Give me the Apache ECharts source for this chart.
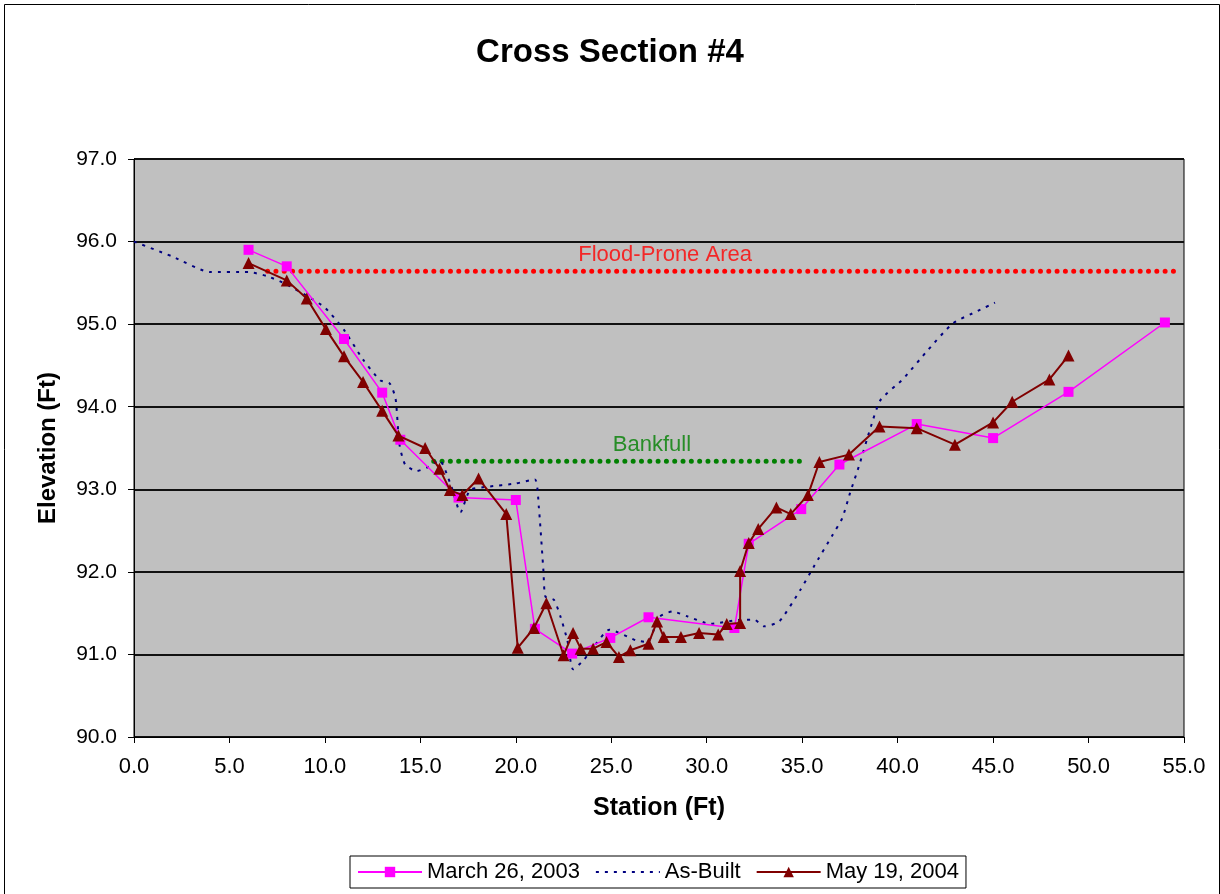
<!DOCTYPE html>
<html>
<head>
<meta charset="utf-8">
<script src="https://cdn.jsdelivr.net/npm/echarts@6/dist/echarts.min.js"></script>
<style>
  html, body { margin: 0; padding: 0; background: #fff; }
  #chart { width: 1220px; height: 894px; }
</style>
</head>
<body>
<div id="chart"></div>
<script>
// March 26, 2003 survey
const marchStation = [6.0, 8.0, 11.0, 13.0, 13.95, 17.0, 20.0, 21.0, 22.95, 24.95, 26.95, 31.45, 32.2, 34.95, 36.95, 41.0, 45.0, 48.95, 54.0];
const marchElev = [95.9, 95.7, 94.82, 94.17, 93.6, 92.9, 92.87, 91.31, 91.01, 91.2, 91.45, 91.32, 92.34, 92.76, 93.3, 93.79, 93.62, 94.18, 95.02];

// As-Built profile
const builtStation = [0, 2, 4, 6, 7, 8, 9, 10, 11, 12, 12.9, 13.4, 13.7, 13.9, 14.2, 14.8, 15.4, 16, 16.6, 17.1, 17.6, 18.5, 20, 21.0,
  21.2, 21.45, 21.55, 22.0, 22.35, 22.7, 23.0, 23.55, 24.2, 24.9, 26.3, 26.9, 27.5, 28.2, 29, 30.2, 31.8, 32.5, 33, 33.8,
  34.9, 35.6, 36.6, 37.1, 37.5, 38.0, 38.6, 39.1, 40.3, 41.6, 42.9, 44.2, 45.1];
const builtElev = [96.0, 95.82, 95.63, 95.63, 95.58, 95.48, 95.35, 95.2, 94.93, 94.57, 94.32, 94.28, 94.1, 93.55, 93.3, 93.22, 93.27, 93.35, 93.05, 92.72, 92.99, 93.03, 93.07, 93.12,
  92.8, 92.0, 91.7, 91.66, 91.45, 91.17, 90.82, 90.93, 91.13, 91.3, 91.17, 91.15, 91.45, 91.52, 91.46, 91.37, 91.42, 91.42, 91.34, 91.4,
  91.78, 92.06, 92.45, 92.65, 92.95, 93.3, 93.76, 94.08, 94.34, 94.69, 95.01, 95.16, 95.26];

// May 19, 2004 survey
const mayStation = [6.0, 8.0, 9.05, 10.05, 11.0, 12.0, 13.0, 13.85, 15.25, 16.0, 16.55, 17.2, 18.05, 19.5, 20.1, 20.95, 21.6, 22.5, 23.0, 23.4,
  24.05, 24.75, 25.4, 26.0, 26.95, 27.4, 27.75, 28.65, 29.6, 30.6, 31.05, 31.75, 31.75, 32.2, 32.7, 33.65, 34.4, 35.3, 35.9, 37.45,
  39.05, 41.0, 43.0, 45.0, 46.0, 47.95, 48.95];
const mayElev = [95.74, 95.53, 95.31, 94.94, 94.61, 94.3, 93.95, 93.65, 93.5, 93.25, 92.99, 92.93, 93.13, 92.7, 91.08, 91.32, 91.62, 90.99, 91.26, 91.07,
  91.07, 91.15, 90.97, 91.05, 91.13, 91.4, 91.21, 91.21, 91.26, 91.24, 91.37, 91.38, 92.01, 92.35, 92.52, 92.78, 92.7, 92.93, 93.33, 93.42,
  93.76, 93.74, 93.54, 93.81, 94.06, 94.33, 94.62];

// reference lines
const floodStation = [7.0, 54.65];
const floodElev = [95.64, 95.64];
const bankStation = [15.7, 35.2];
const bankElev = [93.34, 93.34];
const floodLabelAt = [27.82, 95.84];
const bankLabelAt = [27.13, 93.54];

const xTicks = { min: 0, max: 55, step: 5 };
const yTicks = { min: 90, max: 97, step: 1 };

const zip = (xs, ys) => xs.map((x, i) => [x, ys[i]]);
const font = "Liberation Sans, Arial, sans-serif";

const chart = echarts.init(document.getElementById("chart"));
chart.setOption({
  animation: false,
  textStyle: { fontFamily: font },
  title: {
    text: "Cross Section #4",
    left: "center",
    top: 31,
    textStyle: { fontSize: 33, fontWeight: "bold", color: "#000", fontFamily: font }
  },
  graphic: [{
    type: "rect",
    left: 2, top: 2,
    shape: { width: 1215, height: 900 },
    style: { fill: "none", stroke: "#000", lineWidth: 1 },
    silent: true
  }],
  grid: {
    left: 134, right: 36, top: 159, bottom: 157,
    show: true,
    backgroundColor: "#C0C0C0",
    borderColor: "#000",
    borderWidth: 1
  },
  legend: {
    bottom: 6,
    left: 350,
    data: [
      { name: "March 26, 2003" },
      { name: "As-Built", itemStyle: { opacity: 0 } },
      { name: "May 19, 2004" }
    ],
    itemWidth: 64,
    itemHeight: 13,
    itemGap: 15,
    borderColor: "#000",
    borderWidth: 1,
    padding: [5, 7],
    textStyle: { fontSize: 22, color: "#000", fontFamily: font }
  },
  xAxis: {
    type: "value",
    min: xTicks.min, max: xTicks.max, interval: xTicks.step,
    name: "Station (Ft)",
    nameLocation: "middle",
    nameGap: 59,
    nameTextStyle: { fontSize: 25, fontWeight: "bold", color: "#000" },
    axisLine: { lineStyle: { color: "#000", width: 1 } },
    axisTick: { show: true, length: 6, lineStyle: { color: "#000" } },
    axisLabel: { fontSize: 22, color: "#000", margin: 19, formatter: v => v.toFixed(1) },
    splitLine: { show: false }
  },
  yAxis: {
    type: "value",
    min: yTicks.min, max: yTicks.max, interval: yTicks.step,
    name: "Elevation (Ft)",
    nameLocation: "middle",
    nameGap: 74,
    nameRotate: 90,
    nameTextStyle: { fontSize: 24, fontWeight: "bold", color: "#000" },
    axisLine: { show: true, lineStyle: { color: "#000", width: 1 } },
    axisTick: { show: true, length: 6, lineStyle: { color: "#000" } },
    axisLabel: { fontSize: 21, color: "#000", margin: 17, formatter: v => v.toFixed(1) },
    splitLine: { show: true, lineStyle: { color: "#111", width: 2 } }
  },
  series: [
    {
      name: "Flood-Prone Area",
      type: "line",
      data: zip(floodStation, floodElev),
      symbol: "none",
      lineStyle: { color: "#FF0000", width: 5, type: [0.01, 8.3], cap: "round" },
      z: 2
    },
    {
      name: "Bankfull",
      type: "line",
      data: zip(bankStation, bankElev),
      symbol: "none",
      lineStyle: { color: "#008000", width: 5, type: [0.01, 8.3], cap: "round" },
      z: 2
    },
    {
      name: "labels",
      type: "scatter",
      symbolSize: 0,
      data: [
        { value: floodLabelAt, label: { show: true, formatter: "Flood-Prone Area", color: "#FF0000" } },
        { value: bankLabelAt, label: { show: true, formatter: "Bankfull", color: "#008000" } }
      ],
      label: { position: "inside", fontSize: 22, fontFamily: font },
      silent: true
    },
    {
      name: "March 26, 2003",
      type: "line",
      data: zip(marchStation, marchElev),
      symbol: "rect",
      symbolSize: 10,
      itemStyle: { color: "#FF00FF" },
      lineStyle: { color: "#FF00FF", width: 1.5 },
      z: 4
    },
    {
      name: "As-Built",
      type: "line",
      data: zip(builtStation, builtElev),
      symbol: "none",
      smooth: 0.2,
      lineStyle: { color: "#000080", width: 2, type: [3, 6] },
      itemStyle: { color: "#000080" },
      z: 3
    },
    {
      name: "May 19, 2004",
      type: "line",
      data: zip(mayStation, mayElev),
      symbol: "triangle",
      symbolSize: 12,
      itemStyle: { color: "#800000" },
      lineStyle: { color: "#800000", width: 2 },
      z: 5
    }
  ]
});
</script>
</body>
</html>
